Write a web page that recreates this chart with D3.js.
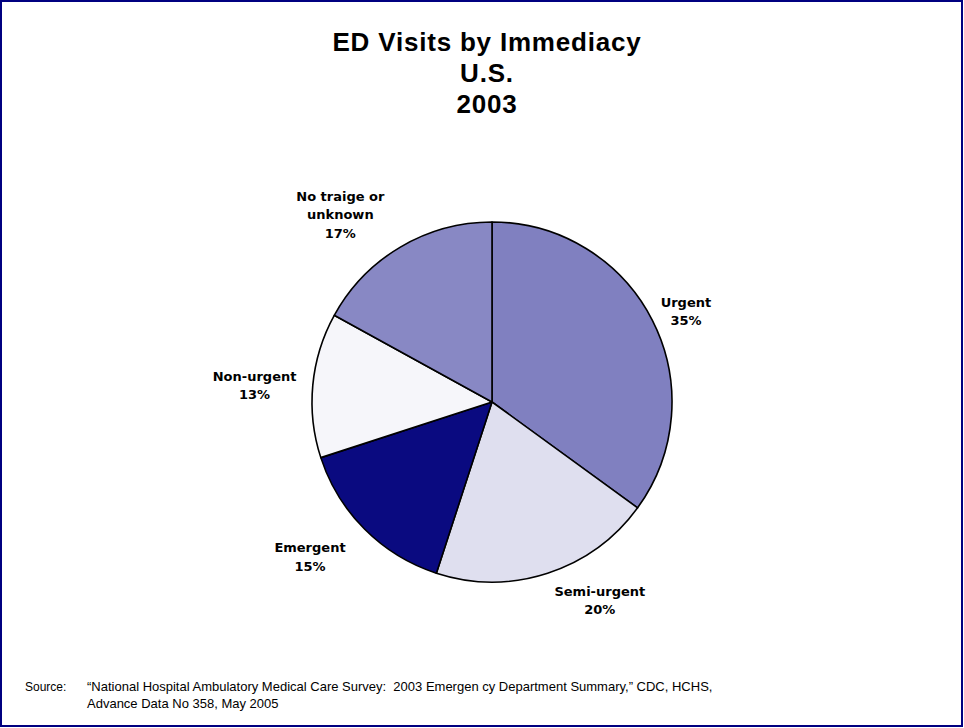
<!DOCTYPE html>
<html>
<head>
<meta charset="utf-8">
<script src="https://cdn.jsdelivr.net/npm/d3@7"></script>
<style>
  html, body { margin: 0; padding: 0; background: #fff; }
  svg { display: block; }
</style>
</head>
<body>
<svg id="chart" width="964" height="728"></svg>
<script>
// ED visits by triage immediacy, U.S. 2003 (percent of visits)
const categories = ["Urgent", "Semi-urgent", "Emergent", "Non-urgent", "No traige or unknown"];
const labelLines = [["Urgent"], ["Semi-urgent"], ["Emergent"], ["Non-urgent"], ["No traige or", "unknown"]];
const shares = [35, 20, 15, 13, 17];
const titleLines = ["ED Visits by Immediacy", "U.S.", "2003"];
const sourceLines = [
  "\u201cNational Hospital Ambulatory Medical Care Survey:\u00a0\u00a02003 Emergen cy Department Summary,\u201d CDC, HCHS,",
  "Advance Data No 358, May 2005"
];

// Slice fills
const sliceColors = ["#8080C0", "#DFDFEF", "#0A0A80", "#F6F6FA", "#8888C4"];
// Label placement around the pie: angle (degrees clockwise from 12 o'clock) and distance from centre
const labelPolar = [
  { a: 65, r: 214 },
  { a: 151.5, r: 226 },
  { a: 229.6, r: 239 },
  { a: 274, r: 238 },
  { a: 321, r: 241 }
];

const svg = d3.select("#chart");
const W = 964, H = 728;

// Frame
svg.append("rect")
  .attr("x", 1).attr("y", 1)
  .attr("width", W - 3).attr("height", H - 3)
  .attr("fill", "#fff")
  .attr("stroke", "#000080")
  .attr("stroke-width", 2);

// Title
svg.append("g").selectAll("text")
  .data(titleLines)
  .join("text")
  .attr("x", 487)
  .attr("y", (d, i) => 51 + i * 31)
  .attr("text-anchor", "middle")
  .attr("font-family", "Liberation Sans, Arial, sans-serif")
  .attr("font-weight", "bold")
  .attr("font-size", 26)
  .attr("letter-spacing", 0.8)
  .attr("fill", "#000")
  .text(d => d);

// Pie
const cx = 492, cy = 402, radius = 180;
const pie = d3.pie().sort(null).value(d => d.v).startAngle(0).endAngle(2 * Math.PI);
const arc = d3.arc().innerRadius(0).outerRadius(radius);
const data = categories.map((c, i) => ({ c, v: shares[i], i }));

const g = svg.append("g").attr("transform", `translate(${cx},${cy})`);
g.selectAll("path")
  .data(pie(data))
  .join("path")
  .attr("d", arc)
  .attr("fill", d => sliceColors[d.data.i])
  .attr("stroke", "#000")
  .attr("stroke-width", 1.6)
  .attr("stroke-linejoin", "round");

// Slice labels
const fmt = d => d3.format(".0f")(d) + "%";
const lab = g.append("g");
data.forEach((d, i) => {
  const lines = labelLines[i].concat([fmt(d.v)]);
  const p = labelPolar[i];
  const ang = p.a * Math.PI / 180;
  const lx = Math.sin(ang) * p.r;
  const ly = -Math.cos(ang) * p.r;
  const lh = 18.5;
  const t = lab.append("text")
    .attr("text-anchor", "middle")
    .attr("font-family", "DejaVu Sans, Verdana, sans-serif")
    .attr("font-weight", "bold")
    .attr("font-size", 13)
    .attr("fill", "#000");
  lines.forEach((ln, k) => {
    t.append("tspan")
      .attr("x", lx)
      .attr("y", ly + (k - (lines.length - 1) / 2) * lh + 4.5)
      .text(ln);
  });
});

// Source note
const src = svg.append("g")
  .attr("font-family", "Liberation Sans, Arial, sans-serif")
  .attr("font-size", 13)
  .attr("fill", "#000");
src.append("text").attr("x", 25).attr("y", 691).attr("font-size", 12).text("Source:");
src.selectAll("text.line")
  .data(sourceLines)
  .join("text")
  .attr("class", "line")
  .attr("x", 87)
  .attr("y", (d, i) => 691 + i * 17)
  .text(d => d);
</script>
</body>
</html>
